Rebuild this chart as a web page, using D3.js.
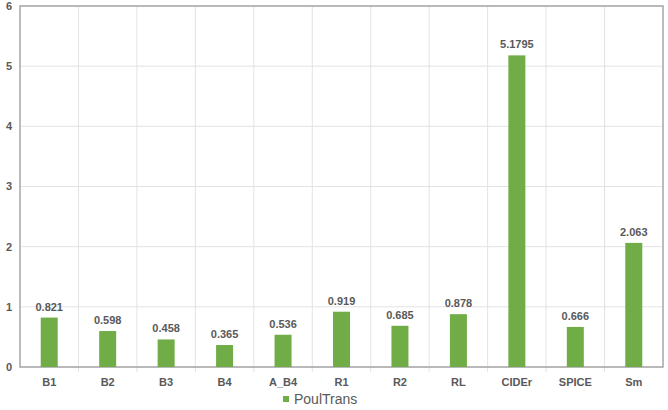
<!DOCTYPE html>
<meta charset="utf-8">
<html>
<script src="https://d3js.org/d3.v7.min.js"></script>
<style>
  body { margin: 0; background: #fff; }
  text { font-family: "Liberation Sans", Arial, sans-serif; }
</style>
<body>
<div id="my_dataviz"></div>
<script>
  // data
  const categories = ["B1", "B2", "B3", "B4", "A_B4", "R1", "R2", "RL", "CIDEr", "SPICE", "Sm"];
  const values = [0.821, 0.598, 0.458, 0.365, 0.536, 0.919, 0.685, 0.878, 5.1795, 0.666, 2.063];
  const valueLabels = ["0.821", "0.598", "0.458", "0.365", "0.536", "0.919", "0.685", "0.878", "5.1795", "0.666", "2.063"];
  const yTicks = [0, 1, 2, 3, 4, 5, 6];
  const seriesName = "PoulTrans";

  const W = 668, H = 410;
  const margin = {top: 6, right: 5, bottom: 43, left: 20},
      width = W - margin.left - margin.right,
      height = H - margin.top - margin.bottom;

  const svg = d3.select("#my_dataviz")
    .append("svg")
      .attr("width", W)
      .attr("height", H)
    .append("g")
      .attr("transform", `translate(${margin.left}, ${margin.top})`);

  const x = d3.scaleBand()
    .domain(categories)
    .range([0, width]);

  const y = d3.scaleLinear()
    .domain([0, 6])
    .range([height, 0]);

  // horizontal gridlines
  svg.selectAll("hgrid")
    .data(yTicks)
    .join("line")
      .attr("x1", 0).attr("x2", width)
      .attr("y1", d => y(d)).attr("y2", d => y(d))
      .attr("stroke", "#e3e3e3");

  // vertical gridlines at category boundaries
  svg.selectAll("vgrid")
    .data(categories.slice(1))
    .join("line")
      .attr("x1", d => x(d)).attr("x2", d => x(d))
      .attr("y1", 0).attr("y2", height + 5)
      .attr("stroke", "#e3e3e3");

  // frame
  svg.append("rect")
    .attr("x", 0).attr("y", 0)
    .attr("width", width).attr("height", height)
    .attr("fill", "none")
    .attr("stroke", "#a6a6a6")
    .attr("stroke-width", 1.5);

  // y tick labels
  svg.selectAll("ylab")
    .data(yTicks)
    .join("text")
      .attr("x", -8)
      .attr("y", d => y(d))
      .attr("dy", "0.35em")
      .attr("text-anchor", "end")
      .attr("font-size", 11)
      .attr("font-weight", "bold")
      .attr("fill", "#595959")
      .text(d => d);

  // x labels
  svg.selectAll("xlab")
    .data(categories)
    .join("text")
      .attr("x", d => x(d) + x.bandwidth() / 2)
      .attr("y", height + 15)
      .attr("dy", "0.35em")
      .attr("text-anchor", "middle")
      .attr("font-size", 11)
      .attr("font-weight", "bold")
      .attr("fill", "#595959")
      .text(d => d);

  const barW = 17;
  const data = categories.map((c, i) => ({c: c, v: values[i], l: valueLabels[i]}));

  // bars
  svg.selectAll("myRect")
    .data(data)
    .join("rect")
      .attr("x", d => x(d.c) + x.bandwidth() / 2 - barW / 2)
      .attr("y", d => y(d.v))
      .attr("width", barW)
      .attr("height", d => y(0) - y(d.v))
      .attr("fill", "#70ad47");

  // value labels
  svg.selectAll("vlab")
    .data(data)
    .join("text")
      .attr("x", d => x(d.c) + x.bandwidth() / 2)
      .attr("y", d => y(d.v) - 7)
      .attr("text-anchor", "middle")
      .attr("font-size", 11)
      .attr("font-weight", "bold")
      .attr("fill", "#595959")
      .text(d => d.l);

  // legend
  const lg = svg.append("g")
    .attr("transform", `translate(${283 - margin.left}, ${399 - margin.top})`);
  lg.append("rect")
    .attr("x", 0).attr("y", -3)
    .attr("width", 6).attr("height", 6)
    .attr("fill", "#70ad47");
  lg.append("text")
    .attr("x", 11).attr("y", 0)
    .attr("dy", "0.35em")
    .attr("font-size", 14)
    .attr("fill", "#595959")
    .text(seriesName);
</script>
</body>
</html>
